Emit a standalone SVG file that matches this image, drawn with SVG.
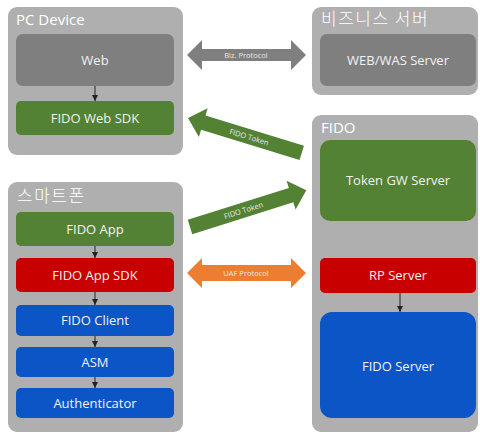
<svg xmlns="http://www.w3.org/2000/svg" width="480" height="434" viewBox="0 0 480 434">
<defs>
<style>
.cont{fill:#afafaf}
.gray{fill:#7f7f7f}
.green{fill:#548235}
.red{fill:#c80000}
.blue{fill:#0b55c6}
.title{font-family:"Open Sans","Noto Sans CJK KR",sans-serif;font-size:15px;fill:#fff}
.ktitle{font-family:"Noto Sans CJK KR",sans-serif;font-size:17px;letter-spacing:1.5px;fill:#fff;font-weight:300}
.lbl{font-family:"Open Sans","Noto Sans CJK KR",sans-serif;font-size:13px;fill:#f2f2f2;text-anchor:middle;dominant-baseline:central}
.albl{font-family:"Open Sans",sans-serif;font-size:7.5px;fill:#e8e8e8;text-anchor:middle;dominant-baseline:central}
.conn{stroke:#222;stroke-width:1;fill:none;marker-end:url(#ah)}
</style>
<marker id="ah" viewBox="0 0 6 6" refX="6" refY="3" markerWidth="6" markerHeight="6" orient="auto" markerUnits="userSpaceOnUse">
<path d="M0,0 L6,3 L0,6 Z" fill="#222"/>
</marker>
</defs>
<rect width="480" height="434" fill="#fff"/>

<g id="pc-device">
<rect class="cont" x="8" y="7" width="175" height="148" rx="9"/>
<text class="title" x="16" y="25">PC Device</text>
</g>
<g id="web"><rect class="gray" x="16" y="34" width="158" height="52" rx="7"/><text class="lbl" x="95" y="60">Web</text></g>
<g id="fido-web-sdk"><rect class="green" x="16" y="101" width="158" height="34" rx="5"/><text class="lbl" x="95" y="118">FIDO Web SDK</text></g>

<g id="biz-server">
<rect class="cont" x="312" y="7" width="166" height="88" rx="9"/>
<text class="ktitle" x="321" y="25">비즈니스 서버</text>
</g>
<g id="web-was"><rect class="gray" x="320" y="34" width="156" height="52" rx="7"/><text class="lbl" x="398" y="60">WEB/WAS Server</text></g>

<g id="smartphone">
<rect class="cont" x="8" y="182" width="175" height="250" rx="9"/>
<text class="ktitle" x="17" y="202">스마트폰</text>
</g>
<g id="fido-app"><rect class="green" x="16" y="212" width="158" height="34" rx="5"/><text class="lbl" x="95" y="229">FIDO App</text></g>
<g id="fido-app-sdk"><rect class="red" x="16" y="258" width="158" height="34" rx="5"/><text class="lbl" x="95" y="275">FIDO App SDK</text></g>
<g id="fido-client"><rect class="blue" x="16" y="305" width="158" height="31" rx="5"/><text class="lbl" x="95" y="320">FIDO Client</text></g>
<g id="asm"><rect class="blue" x="16" y="347" width="158" height="30" rx="5"/><text class="lbl" x="95" y="362">ASM</text></g>
<g id="authenticator"><rect class="blue" x="16" y="388" width="158" height="30" rx="5"/><text class="lbl" x="95" y="403">Authenticator</text></g>

<g id="fido">
<rect class="cont" x="312" y="115" width="166" height="317" rx="9"/>
<text class="title" x="321" y="133">FIDO</text>
</g>
<g id="token-gw"><rect class="green" x="320" y="140" width="156" height="81" rx="10"/><text class="lbl" x="398" y="180">Token GW Server</text></g>
<g id="rp-server"><rect class="red" x="320" y="258" width="156" height="35" rx="5"/><text class="lbl" x="398" y="275">RP Server</text></g>
<g id="fido-server"><rect class="blue" x="320" y="312" width="156" height="106" rx="12"/><text class="lbl" x="398" y="366">FIDO Server</text></g>

<g id="connectors">
<line class="conn" x1="95" y1="86" x2="95" y2="101"/>
<line class="conn" x1="95" y1="246" x2="95" y2="258"/>
<line class="conn" x1="95" y1="292" x2="95" y2="305"/>
<line class="conn" x1="95" y1="336" x2="95" y2="347"/>
<line class="conn" x1="95" y1="377" x2="95" y2="388"/>
<line class="conn" x1="400" y1="293" x2="400" y2="312"/>

<g id="biz-protocol">
<polygon fill="#7f7f7f" points="187,55 202,40 202,49 291,49 291,40 306,55 291,70 291,61 202,61 202,70"/>
<text class="albl" x="246" y="55">Biz. Protocol</text>
</g>
<g id="uaf-protocol">
<polygon fill="#ed7d31" points="187,273 202,258 202,265 291,265 291,258 306,273 291,288 291,281 202,281 202,288"/>
<text class="albl" x="246" y="273">UAF Protocol</text>
</g>
<g id="fido-token-1" transform="translate(188,118) rotate(17.07)">
<polygon fill="#548235" points="0,0 16,-15 16,-7.5 119,-7.5 119,7.5 16,7.5 16,15"/>
<text class="albl" x="64" y="0">FIDO Token</text>
</g>
<g id="fido-token-2" transform="translate(190,227) rotate(-17.5)">
<polygon fill="#548235" points="0,-7.5 106,-7.5 106,-15 122,0 106,15 106,7.5 0,7.5"/>
<text class="albl" x="56" y="0">FIDO Token</text>
</g>
</g>
</svg>
